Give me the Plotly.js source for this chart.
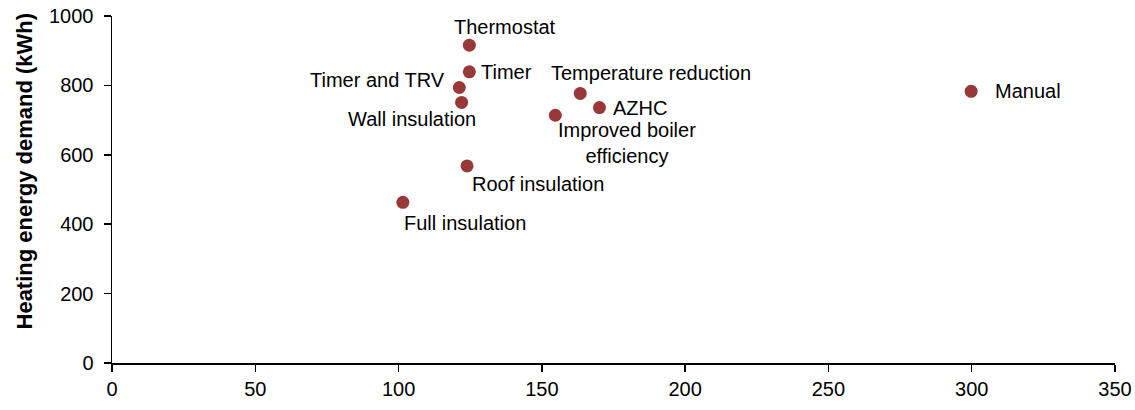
<!DOCTYPE html>
<html>
<head>
<meta charset="utf-8">
<script src="https://cdn.plot.ly/plotly-3.0.1.min.js"></script>
<style>html,body{margin:0;padding:0;background:#fff;}#chart{width:1135px;height:410px;}</style>
</head>
<body>
<div id="chart"></div>
<script>
// Data
var labels = ["Thermostat", "Timer", "Timer and TRV", "Wall insulation", "Temperature reduction",
              "AZHC", "Improved boiler<br>efficiency", "Roof insulation", "Full insulation", "Manual"];
var xValues = [124.7, 124.7, 121.2, 122.0, 163.4, 170.1, 154.7, 123.9, 101.5, 299.8];
var yValues = [916, 839, 794, 751, 777, 736, 714, 568, 463, 783];
var xTicks = [0, 50, 100, 150, 200, 250, 300, 350];
var yTicks = [0, 200, 400, 600, 800, 1000];
var yTitle = "Heating energy demand (kWh)";

// Label placement (styles only, in pixels relative to each point)
var labelPlacement = [
  {xanchor: "center", xshift: 36, yshift: 18},
  {xanchor: "left", xshift: 10, yshift: 0},
  {xanchor: "right", xshift: -12, yshift: 7},
  {xanchor: "center", xshift: -50, yshift: -17},
  {xanchor: "center", xshift: 71, yshift: 20},
  {xanchor: "left", xshift: 12, yshift: 0},
  {xanchor: "center", xshift: 72, yshift: -28},
  {xanchor: "center", xshift: 71, yshift: -18},
  {xanchor: "center", xshift: 62, yshift: -21},
  {xanchor: "left", xshift: 22, yshift: 0}
];

var FONT = "Liberation Sans Narrow, Arial Narrow, Liberation Sans, Arial, sans-serif";

var annotations = labels.map(function (t, i) {
  var p = labelPlacement[i];
  return {
    x: xValues[i], y: yValues[i], xref: "x", yref: "y",
    text: t, showarrow: false,
    xanchor: p.xanchor, yanchor: "middle",
    xshift: p.xshift, yshift: p.yshift,
    font: {family: FONT, size: 20, color: "#000"}
  };
});

// y-axis title drawn as a rotated annotation so its vertical placement matches
annotations.push({
  xref: "paper", yref: "paper", x: -0.0877, y: 0.552,
  xanchor: "center", yanchor: "middle",
  text: "<b>" + yTitle + "</b>", textangle: -90, showarrow: false,
  font: {family: FONT, size: 22, color: "#000"}
});

var trace = {
  type: "scatter", mode: "markers",
  x: xValues, y: yValues,
  marker: {color: "#993838", size: 13, line: {width: 0}},
  hoverinfo: "skip"
};

var layout = {
  width: 1135, height: 410,
  margin: {l: 112, r: 20, t: 16, b: 47},
  paper_bgcolor: "#fff", plot_bgcolor: "#fff",
  showlegend: false,
  font: {family: FONT, size: 20, color: "#000"},
  xaxis: {
    range: [0, 350], tickvals: xTicks, ticktext: xTicks.map(String),
    showgrid: false, zeroline: false,
    showline: true, linecolor: "#000", linewidth: 1.5,
    ticks: "outside", ticklen: 7, tickwidth: 1.5, tickcolor: "#000",
    tickfont: {family: FONT, size: 20, color: "#000"}
  },
  yaxis: {
    range: [0, 1000], tickvals: yTicks, ticktext: yTicks.map(String),
    showgrid: false, zeroline: false,
    showline: true, linecolor: "#000", linewidth: 1.5,
    ticks: "outside", ticklen: 7, tickwidth: 1.5, tickcolor: "#000",
    tickfont: {family: FONT, size: 20, color: "#000"},
    ticklabelstandoff: 6
  },
  annotations: annotations
};

Plotly.newPlot("chart", [trace], layout, {staticPlot: true, displayModeBar: false});
</script>
</body>
</html>
